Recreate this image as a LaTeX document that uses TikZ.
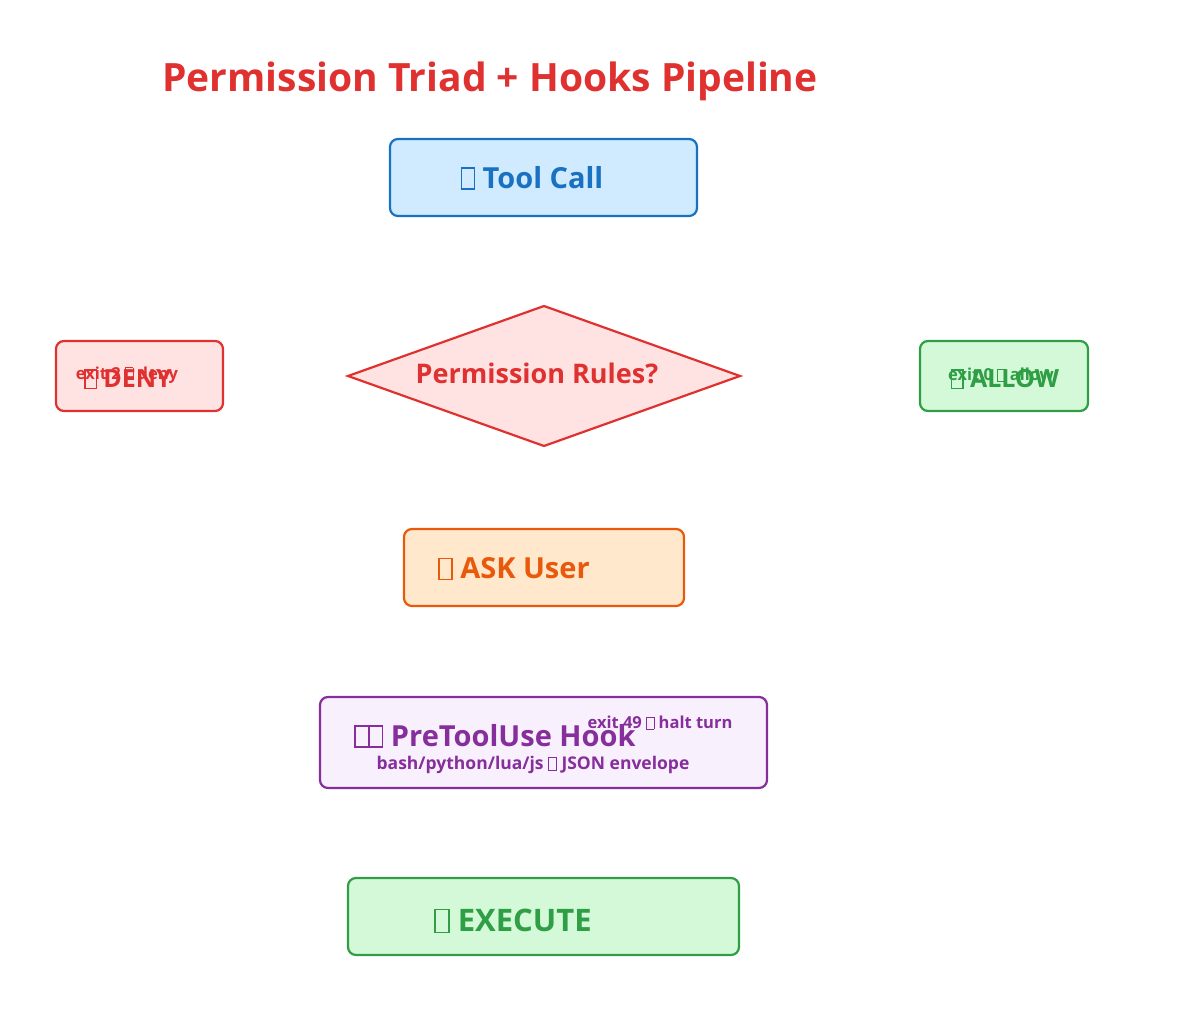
\documentclass[tikz,border=0pt]{standalone}
\usepackage{fontspec}
\setmainfont{Open Sans}
\usetikzlibrary{shapes.geometric}
\definecolor{cred}{HTML}{E03131}
\definecolor{credf}{HTML}{FFE3E3}
\definecolor{cblue}{HTML}{1971C2}
\definecolor{cbluef}{HTML}{D0EBFF}
\definecolor{cgreen}{HTML}{2F9E44}
\definecolor{cgreenf}{HTML}{D3F9D8}
\definecolor{corange}{HTML}{E8590C}
\definecolor{corangef}{HTML}{FFE8CC}
\definecolor{cpurple}{HTML}{862E9C}
\definecolor{cpurplef}{HTML}{F8F0FC}
\newcommand\tofu{{\setlength\fboxsep{0pt}\setlength\fboxrule{.05em}\fbox{\rule{0pt}{.68em}\hspace{.4em}}}}
\newcommand\fs[1]{\fontsize{#1}{#1}\selectfont\bfseries}
\tikzset{
  box/.style={rounded corners=8pt, line width=2.2pt},
  lbl/.style={inner sep=0pt, anchor=center},
}
\begin{document}
\begin{tikzpicture}[x=1pt,y=-1pt]
\useasboundingbox (0,0) rectangle (1200,1011);
\node[lbl, text=cred] (title) at (490,81) {\fs{39}Permission Triad + Hooks Pipeline};

\draw[box, draw=cblue, fill=cbluef] (390,139) rectangle (697,216);
\node[lbl, text=cblue] (tool) at (532,178) {\fs{29}\tofu\ Tool Call};

\draw[line width=2.2pt, draw=cred, fill=credf] (348,376) -- (544,306) -- (740,376) -- (544,446) -- cycle;
\node[lbl, text=cred] (perm) at (537,373) {\fs{27}Permission Rules?};

\draw[box, draw=cred, fill=credf] (56,341) rectangle (223,411);
\node[lbl, text=cred] (deny) at (128,379) {\fs{25}\tofu\ DENY};
\node[lbl, text=cred] (denyx) at (127,375) {\fs{16.5}exit 2 \tofu\ deny};

\draw[box, draw=cgreen, fill=cgreenf] (920,341) rectangle (1088,411);
\node[lbl, text=cgreen] (allow) at (1005,379) {\fs{25}\tofu\ ALLOW};
\node[lbl, text=cgreen] (allowx) at (1001,375) {\fs{16.5}exit 0 \tofu\ allow};

\draw[box, draw=corange, fill=corangef] (404,529) rectangle (684,606);
\node[lbl, text=corange] (ask) at (514,569) {\fs{29}\tofu\ ASK User};

\draw[box, draw=cpurple, fill=cpurplef] (320,697) rectangle (767,788);
\node[lbl, text=cpurple] (hook) at (495,736) {\fs{29}\tofu\tofu\ PreToolUse Hook};
\node[lbl, text=cpurple] (halt) at (660,723) {\fs{16.5}exit 49 \tofu\ halt turn};
\node[lbl, text=cpurple] (env) at (533,765) {\fs{17.5}bash/python/lua/js \tofu\ JSON envelope};

\draw[box, draw=cgreen, fill=cgreenf] (348,878) rectangle (739,955);
\node[lbl, text=cgreen] (exec) at (513,921) {\fs{31}\tofu\ EXECUTE};
\end{tikzpicture}
\end{document}
